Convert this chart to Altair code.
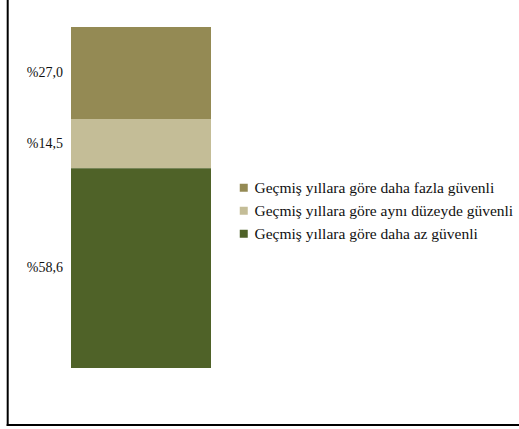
import altair as alt
import pandas as pd

categories = [
    "Geçmiş yıllara göre daha fazla güvenli",
    "Geçmiş yıllara göre aynı düzeyde güvenli",
    "Geçmiş yıllara göre daha az güvenli",
]
values = [27.0, 14.5, 58.6]
labels = ["%27,0", "%14,5", "%58,6"]
colors = ["#948A54", "#C4BD97", "#4F6228"]
stack_order = [3, 2, 1]  # 1 = bottom of the stack

df = pd.DataFrame({
    "grup": ["Toplam"] * 3,
    "kategori": categories,
    "deger": values,
    "etiket": labels,
    "sira": stack_order,
})

FONT = "Liberation Serif"
ydom = [0, sum(values)]

base = alt.Chart(df)

bar = base.mark_bar(stroke=None).encode(
    x=alt.X("grup:N", axis=None, scale=alt.Scale(paddingInner=0, paddingOuter=0)),
    y=alt.Y("deger:Q", stack="zero", axis=None, scale=alt.Scale(domain=ydom)),
    color=alt.Color(
        "kategori:N",
        scale=alt.Scale(domain=categories, range=colors),
        legend=alt.Legend(
            title=None,
            orient="none",
            legendX=165,
            legendY=153,
            symbolType="square",
            symbolSize=64,
            symbolStrokeWidth=0,
            labelFont=FONT,
            labelFontSize=15.5,
            labelColor="#111111",
            labelOffset=3,
            rowPadding=6,
            padding=0,
            labelLimit=400,
        ),
    ),
    order=alt.Order("sira:Q"),
)

text = base.transform_window(
    cum="sum(deger)", sort=[alt.SortField("sira")]
).transform_calculate(
    mid="datum.cum - datum.deger / 2"
).mark_text(
    align="right", baseline="middle", font=FONT, fontSize=14, color="#111111"
).encode(
    x=alt.value(-8),
    y=alt.Y("mid:Q", axis=None, scale=alt.Scale(domain=ydom)),
    text="etiket:N",
)

frame_df = pd.DataFrame({"k": [0]})
left_line = alt.Chart(frame_df).mark_rule(color="#000000", strokeWidth=2).encode(
    x=alt.value(-63.3), y=alt.value(-40), y2=alt.value(399)
)
bottom_line = alt.Chart(frame_df).mark_rule(color="#000000", strokeWidth=2).encode(
    x=alt.value(-64.3), x2=alt.value(460), y=alt.value(398)
)

chart = alt.layer(bar, text, left_line, bottom_line).properties(
    width=140,
    height=341,
    padding={"left": 71, "top": 27, "right": 308, "bottom": 61},
    autosize=alt.AutoSizeParams(type="none"),
    background="#ffffff",
).configure_view(stroke=None)

chart.save("out.html", embed_options={"renderer": "svg", "actions": False})
